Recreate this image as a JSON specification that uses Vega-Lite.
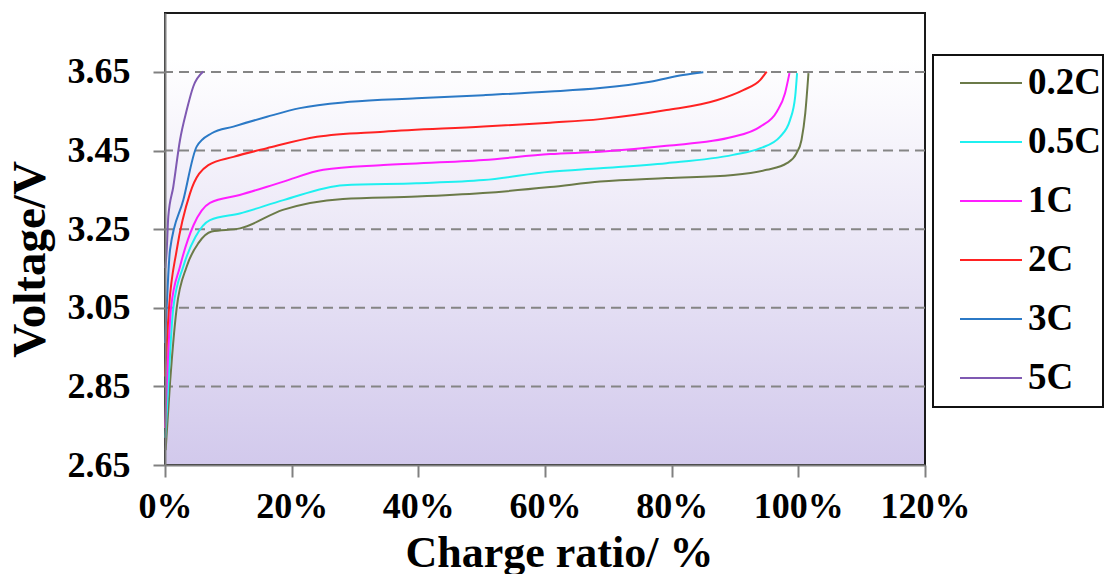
{
  "$schema": "https://vega.github.io/schema/vega-lite/v6.json",
  "width": 760,
  "height": 452,
  "autosize": {"type": "none"},
  "padding": {"left": 165, "top": 13, "right": 194, "bottom": 109},
  "background": "white",
  "config": {
    "view": {"stroke": null},
    "font": "Liberation Serif",
    "legend": {"strokeWidth": 2}
  },
  "datasets": {
    "curves": [
      {"rate": "0.2C", "ratio": 0.1, "voltage": 2.688},
      {"rate": "0.2C", "ratio": 0.8, "voltage": 2.86},
      {"rate": "0.2C", "ratio": 1.85, "voltage": 3.05},
      {"rate": "0.2C", "ratio": 3.43, "voltage": 3.155},
      {"rate": "0.2C", "ratio": 5.3, "voltage": 3.215},
      {"rate": "0.2C", "ratio": 7.37, "voltage": 3.244},
      {"rate": "0.2C", "ratio": 11.84, "voltage": 3.252},
      {"rate": "0.2C", "ratio": 18.6, "voltage": 3.299},
      {"rate": "0.2C", "ratio": 28.1, "voltage": 3.327},
      {"rate": "0.2C", "ratio": 39.8, "voltage": 3.333},
      {"rate": "0.2C", "ratio": 50.2, "voltage": 3.342},
      {"rate": "0.2C", "ratio": 60.8, "voltage": 3.357},
      {"rate": "0.2C", "ratio": 68.7, "voltage": 3.371},
      {"rate": "0.2C", "ratio": 79.2, "voltage": 3.380},
      {"rate": "0.2C", "ratio": 89.7, "voltage": 3.388},
      {"rate": "0.2C", "ratio": 95.0, "voltage": 3.401},
      {"rate": "0.2C", "ratio": 98.2, "voltage": 3.418},
      {"rate": "0.2C", "ratio": 99.7, "voltage": 3.443},
      {"rate": "0.2C", "ratio": 100.5, "voltage": 3.477},
      {"rate": "0.2C", "ratio": 101.1, "voltage": 3.546},
      {"rate": "0.2C", "ratio": 101.6, "voltage": 3.647},

      {"rate": "0.5C", "ratio": 0.05, "voltage": 2.719},
      {"rate": "0.5C", "ratio": 0.4, "voltage": 2.82},
      {"rate": "0.5C", "ratio": 1.31, "voltage": 3.05},
      {"rate": "0.5C", "ratio": 2.89, "voltage": 3.155},
      {"rate": "0.5C", "ratio": 4.8, "voltage": 3.23},
      {"rate": "0.5C", "ratio": 7.1, "voltage": 3.273},
      {"rate": "0.5C", "ratio": 11.8, "voltage": 3.290},
      {"rate": "0.5C", "ratio": 18.7, "voltage": 3.324},
      {"rate": "0.5C", "ratio": 28.2, "voltage": 3.362},
      {"rate": "0.5C", "ratio": 39.7, "voltage": 3.367},
      {"rate": "0.5C", "ratio": 50.3, "voltage": 3.375},
      {"rate": "0.5C", "ratio": 60.8, "voltage": 3.396},
      {"rate": "0.5C", "ratio": 68.7, "voltage": 3.405},
      {"rate": "0.5C", "ratio": 79.2, "voltage": 3.418},
      {"rate": "0.5C", "ratio": 89.7, "voltage": 3.439},
      {"rate": "0.5C", "ratio": 94.0, "voltage": 3.456},
      {"rate": "0.5C", "ratio": 97.1, "voltage": 3.485},
      {"rate": "0.5C", "ratio": 98.7, "voltage": 3.528},
      {"rate": "0.5C", "ratio": 99.5, "voltage": 3.587},
      {"rate": "0.5C", "ratio": 99.8, "voltage": 3.647},

      {"rate": "1C", "ratio": 0.0, "voltage": 2.744},
      {"rate": "1C", "ratio": 0.24, "voltage": 2.84},
      {"rate": "1C", "ratio": 0.95, "voltage": 3.05},
      {"rate": "1C", "ratio": 2.37, "voltage": 3.155},
      {"rate": "1C", "ratio": 4.5, "voltage": 3.26},
      {"rate": "1C", "ratio": 7.1, "voltage": 3.317},
      {"rate": "1C", "ratio": 11.8, "voltage": 3.337},
      {"rate": "1C", "ratio": 18.7, "voltage": 3.371},
      {"rate": "1C", "ratio": 25.0, "voltage": 3.401},
      {"rate": "1C", "ratio": 34.5, "voltage": 3.413},
      {"rate": "1C", "ratio": 50.3, "voltage": 3.426},
      {"rate": "1C", "ratio": 60.8, "voltage": 3.441},
      {"rate": "1C", "ratio": 68.7, "voltage": 3.447},
      {"rate": "1C", "ratio": 79.2, "voltage": 3.462},
      {"rate": "1C", "ratio": 89.7, "voltage": 3.485},
      {"rate": "1C", "ratio": 94.0, "voltage": 3.511},
      {"rate": "1C", "ratio": 96.6, "voltage": 3.549},
      {"rate": "1C", "ratio": 97.9, "voltage": 3.596},
      {"rate": "1C", "ratio": 98.6, "voltage": 3.647},

      {"rate": "2C", "ratio": 0.0, "voltage": 2.875},
      {"rate": "2C", "ratio": 0.63, "voltage": 3.05},
      {"rate": "2C", "ratio": 1.85, "voltage": 3.197},
      {"rate": "2C", "ratio": 3.95, "voltage": 3.341},
      {"rate": "2C", "ratio": 6.84, "voltage": 3.413},
      {"rate": "2C", "ratio": 10.8, "voltage": 3.434},
      {"rate": "2C", "ratio": 16.1, "voltage": 3.456},
      {"rate": "2C", "ratio": 24.0, "voltage": 3.485},
      {"rate": "2C", "ratio": 34.5, "voltage": 3.498},
      {"rate": "2C", "ratio": 50.3, "voltage": 3.511},
      {"rate": "2C", "ratio": 60.8, "voltage": 3.521},
      {"rate": "2C", "ratio": 68.7, "voltage": 3.530},
      {"rate": "2C", "ratio": 79.2, "voltage": 3.553},
      {"rate": "2C", "ratio": 87.1, "voltage": 3.578},
      {"rate": "2C", "ratio": 91.3, "voltage": 3.604},
      {"rate": "2C", "ratio": 94.0, "voltage": 3.630},
      {"rate": "2C", "ratio": 95.0, "voltage": 3.651},

      {"rate": "3C", "ratio": 0.0, "voltage": 2.960},
      {"rate": "3C", "ratio": 0.26, "voltage": 3.05},
      {"rate": "3C", "ratio": 0.79, "voltage": 3.197},
      {"rate": "3C", "ratio": 2.89, "voltage": 3.324},
      {"rate": "3C", "ratio": 5.0, "voltage": 3.460},
      {"rate": "3C", "ratio": 7.37, "voltage": 3.494},
      {"rate": "3C", "ratio": 10.8, "voltage": 3.511},
      {"rate": "3C", "ratio": 16.1, "voltage": 3.536},
      {"rate": "3C", "ratio": 21.3, "voltage": 3.558},
      {"rate": "3C", "ratio": 29.2, "voltage": 3.574},
      {"rate": "3C", "ratio": 39.7, "voltage": 3.583},
      {"rate": "3C", "ratio": 50.3, "voltage": 3.591},
      {"rate": "3C", "ratio": 60.8, "voltage": 3.600},
      {"rate": "3C", "ratio": 68.7, "voltage": 3.609},
      {"rate": "3C", "ratio": 76.6, "voltage": 3.625},
      {"rate": "3C", "ratio": 81.8, "voltage": 3.642},
      {"rate": "3C", "ratio": 85.0, "voltage": 3.649},

      {"rate": "5C", "ratio": 0.05, "voltage": 3.151},
      {"rate": "5C", "ratio": 0.27, "voltage": 3.197},
      {"rate": "5C", "ratio": 0.52, "voltage": 3.282},
      {"rate": "5C", "ratio": 1.31, "voltage": 3.358},
      {"rate": "5C", "ratio": 2.37, "voltage": 3.477},
      {"rate": "5C", "ratio": 3.43, "voltage": 3.553},
      {"rate": "5C", "ratio": 4.47, "voltage": 3.613},
      {"rate": "5C", "ratio": 6.05, "voltage": 3.651}
    ],
    "grid": [
      {"level": 2.85}, {"level": 3.05}, {"level": 3.25}, {"level": 3.45}, {"level": 3.65}
    ]
  },
  "layer": [
    {
      "data": {"values": [{}]},
      "mark": {
        "type": "rect",
        "stroke": "#1a1a1a",
        "strokeWidth": 2,
        "color": {
          "gradient": "linear",
          "x1": 0, "y1": 0, "x2": 0, "y2": 1,
          "stops": [
            {"offset": 0, "color": "#ffffff"},
            {"offset": 0.1, "color": "#ffffff"},
            {"offset": 1, "color": "#d2c9ec"}
          ]
        }
      },
      "encoding": {
        "x": {"datum": 0, "type": "quantitative"},
        "x2": {"datum": 120},
        "y": {"datum": 3.8, "type": "quantitative"},
        "y2": {"datum": 2.65}
      }
    },
    {
      "data": {"name": "grid"},
      "mark": {"type": "rule", "color": "#858585", "strokeWidth": 2, "strokeDash": [10, 6]},
      "encoding": {
        "y": {"field": "level", "type": "quantitative"}
      }
    },
    {
      "data": {"name": "curves"},
      "mark": {"type": "line", "strokeWidth": 2, "interpolate": "monotone"},
      "encoding": {
        "x": {
          "field": "ratio",
          "type": "quantitative",
          "scale": {"domain": [0, 120], "nice": false, "zero": false},
          "axis": {
            "values": [0, 20, 40, 60, 80, 100, 120],
            "labelExpr": "datum.value + '%'",
            "labelFont": "Liberation Serif",
            "labelFontWeight": "bold",
            "labelFontSize": 36,
            "labelColor": "#000000",
            "labelFlush": false,
            "labelOverlap": false,
            "labelPadding": 12,
            "tickSize": 12,
            "tickColor": "#808080",
            "tickWidth": 2,
            "domainColor": "#808080",
            "domainWidth": 2,
            "grid": false,
            "zindex": 1,
            "title": "Charge ratio/ %",
            "titleFont": "Liberation Serif",
            "titleFontWeight": "bold",
            "titleFontSize": 44,
            "titleColor": "#000000",
            "titleX": 394,
            "titleY": 66
          }
        },
        "y": {
          "field": "voltage",
          "type": "quantitative",
          "scale": {"domain": [2.65, 3.8], "nice": false, "zero": false},
          "axis": {
            "values": [2.65, 2.85, 3.05, 3.25, 3.45, 3.65],
            "format": ".2f",
            "labelFont": "Liberation Serif",
            "labelFontWeight": "bold",
            "labelFontSize": 36,
            "labelColor": "#000000",
            "labelFlush": false,
            "labelOverlap": false,
            "labelPadding": 23,
            "tickSize": 12,
            "tickColor": "#808080",
            "tickWidth": 2,
            "domainColor": "#808080",
            "domainWidth": 2,
            "grid": false,
            "zindex": 1,
            "title": "Voltage/V",
            "titleFont": "Liberation Serif",
            "titleFontWeight": "bold",
            "titleFontSize": 47,
            "titleColor": "#000000",
            "titleX": -111,
            "titleY": 246
          }
        },
        "color": {
          "field": "rate",
          "type": "nominal",
          "scale": {
            "domain": ["0.2C", "0.5C", "1C", "2C", "3C", "5C"],
            "range": ["#6b7a48", "#1ff0f0", "#ff1eff", "#ff2222", "#2b79c6", "#7f59b2"]
          },
          "legend": {
            "orient": "none",
            "legendX": 768,
            "legendY": 42,
            "title": null,
            "symbolType": "M-1.24,0H1.24M0,-1.16M0,0.9",
            "symbolSize": 2500,
            "symbolStrokeWidth": 2,
            "symbolOffset": 30,
            "labelOffset": 11,
            "rowPadding": -1,
            "padding": 2,
            "strokeColor": "#111111",
            "fillColor": "#ffffff",
            "labelFont": "Liberation Serif",
            "labelFontWeight": "bold",
            "labelFontSize": 37,
            "labelColor": "#000000",
            "labelExpr": "datum.label + ' '"
          }
        }
      }
    }
  ]
}
